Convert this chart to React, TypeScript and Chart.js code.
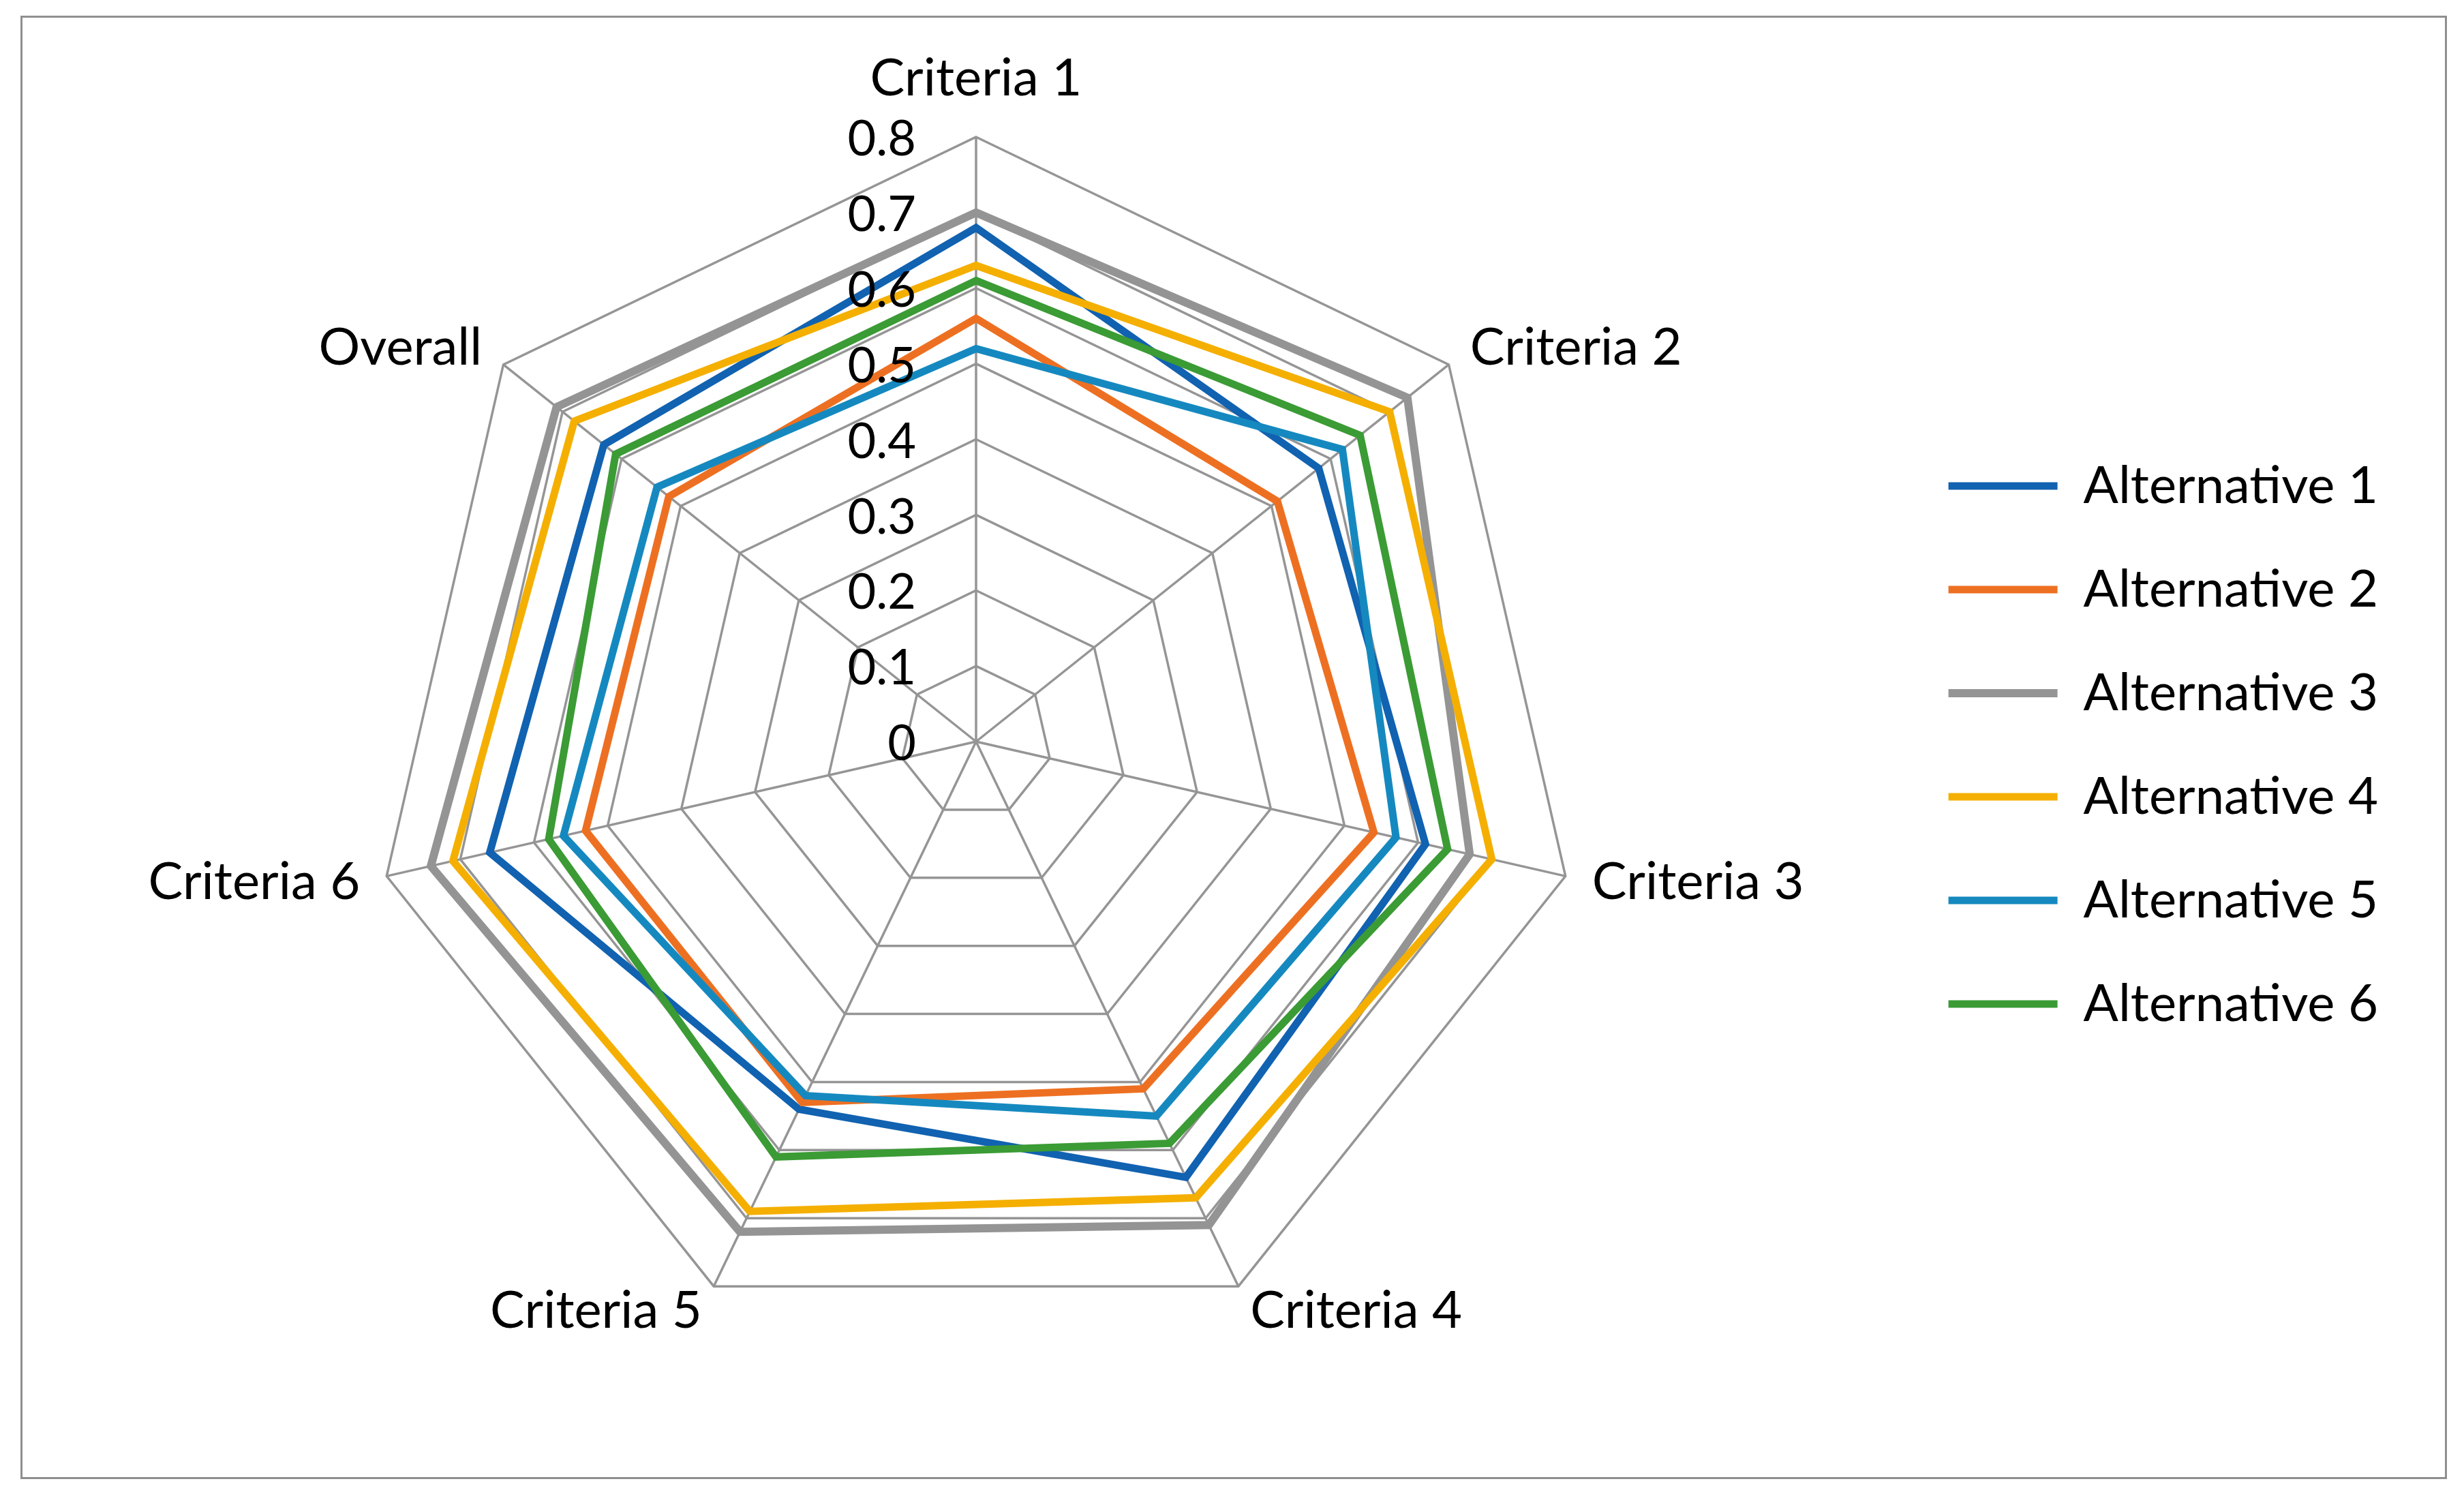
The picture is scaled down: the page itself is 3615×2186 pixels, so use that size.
import React, { useEffect, useRef } from 'react';
import { Chart, registerables } from 'chart.js';

Chart.register(...registerables);

// ---------- data ----------
const categories = ['Criteria 1', 'Criteria 2', 'Criteria 3', 'Criteria 4', 'Criteria 5', 'Criteria 6', 'Overall'];
const seriesNames = ['Alternative 1', 'Alternative 2', 'Alternative 3', 'Alternative 4', 'Alternative 5', 'Alternative 6'];
const alternative1 = [0.68, 0.58, 0.61, 0.64, 0.54, 0.66, 0.63];
const alternative2 = [0.56, 0.51, 0.54, 0.51, 0.53, 0.53, 0.52];
const alternative3 = [0.70, 0.73, 0.67, 0.71, 0.72, 0.74, 0.71];
const alternative4 = [0.63, 0.70, 0.70, 0.67, 0.69, 0.71, 0.68];
const alternative5 = [0.52, 0.62, 0.57, 0.55, 0.52, 0.56, 0.54];
const alternative6 = [0.61, 0.65, 0.64, 0.59, 0.61, 0.58, 0.61];
const seriesValues = [alternative1, alternative2, alternative3, alternative4, alternative5, alternative6];
const axisMin = 0;
const axisMax = 0.8;
const axisStep = 0.1;

// ---------- style / layout ----------
const seriesColors = ['#1162B0', '#ED7022', '#949494', '#F4AF00', '#1589BF', '#3B9B35'];
const seriesWidths = [11, 11, 12, 11, 11, 11];
const GRID_COLOR = '#959595';
const FONT_FAMILY = 'Lato';
const TICK_FONT_SIZE = 72;
const LABEL_FONT_SIZE = 76;
const W = 3615;
const H = 2186;
const CX = 1432;
const CY = 1088;
const RADIUS = 887;
const LABEL_GAP = 40;
const TICK_GAP = 88;
const TICK_DY = 4;

const framePlugin = {
  id: 'frame',
  beforeDraw(chart: any) {
    const ctx = chart.ctx;
    ctx.save();
    ctx.fillStyle = '#ffffff';
    ctx.fillRect(0, 0, chart.width, chart.height);
    ctx.strokeStyle = '#8f8f8f';
    ctx.lineWidth = 3;
    ctx.strokeRect(31.5, 24.5, 3557, 2144);
    ctx.restore();
  },
};

const tickLabelPlugin = {
  id: 'tickLabels',
  afterDatasetsDraw(chart: any) {
    const scale = chart.scales.r;
    const ctx = chart.ctx;
    ctx.save();
    ctx.font = `${TICK_FONT_SIZE}px ${FONT_FAMILY}`;
    ctx.fillStyle = '#000000';
    ctx.textAlign = 'right';
    ctx.textBaseline = 'middle';
    scale.ticks.forEach((t: any) => {
      const d = scale.getDistanceFromCenterForValue(t.value);
      ctx.fillText(t.label, scale.xCenter - TICK_GAP, scale.yCenter - d + TICK_DY);
    });
    ctx.restore();
  },
};

function placeScale(scale: any) {
  scale.xCenter = CX;
  scale.yCenter = CY;
  scale.drawingArea = RADIUS;
  const items = scale._pointLabelItems || [];
  items.forEach((it: any, i: number) => {
    const ang = scale.getIndexAngle(i);
    const a = ang - Math.PI / 2;
    const dist = RADIUS + LABEL_GAP;
    const px = CX + Math.cos(a) * dist;
    const py = CY + Math.sin(a) * dist;
    const w = it.right - it.left;
    const h = it.bottom - it.top;
    const deg = Math.round((((ang * 180) / Math.PI) % 360 + 360) % 360);
    const left = it.textAlign === 'center' ? px - w / 2 : it.textAlign === 'right' ? px - w : px;
    const top = deg === 0 ? py - h : deg === 180 ? py : py - h / 2;
    it.x = px;
    it.y = top;
    it.left = left;
    it.top = top;
    it.right = left + w;
    it.bottom = top + h;
  });
}

export default function App() {
  const ref = useRef<HTMLCanvasElement | null>(null);

  useEffect(() => {
    if (!ref.current) return;
    const chart = new Chart(ref.current, {
      type: 'radar',
      data: {
        labels: categories,
        datasets: seriesValues.map((vals, i) => ({
          label: seriesNames[i],
          data: vals,
          borderColor: seriesColors[i],
          backgroundColor: seriesColors[i],
          borderWidth: seriesWidths[i],
          borderCapStyle: 'round' as const,
          borderJoinStyle: 'miter' as const,
          fill: false,
          pointRadius: 0,
          pointHoverRadius: 0,
          order: seriesValues.length - i,
        })),
      },
      options: {
        animation: false,
        responsive: true,
        maintainAspectRatio: false,
        devicePixelRatio: 1,
        layout: { padding: { right: 116, top: 0, bottom: 0, left: 0 } },
        plugins: {
          tooltip: { enabled: false },
          legend: {
            display: true,
            position: 'right',
            reverse: true,
            labels: {
              usePointStyle: true,
              pointStyle: 'line',
              pointStyleWidth: 160,
              boxHeight: 12,
              padding: 76,
              color: '#000000',
              font: { family: FONT_FAMILY, size: LABEL_FONT_SIZE },
            },
          },
        },
        scales: {
          r: {
            min: axisMin,
            max: axisMax,
            beginAtZero: true,
            startAngle: 0,
            ticks: { stepSize: axisStep, display: false },
            grid: { circular: false, color: GRID_COLOR, lineWidth: 3.5 },
            angleLines: { display: true, color: GRID_COLOR, lineWidth: 3.5 },
            pointLabels: {
              display: true,
              padding: LABEL_GAP,
              color: '#000000',
              font: { family: FONT_FAMILY, size: LABEL_FONT_SIZE },
            },
            afterFit: placeScale,
          } as any,
        },
      },
      plugins: [framePlugin, tickLabelPlugin],
    });
    return () => chart.destroy();
  }, []);

  return (
    <div style={{ position: 'absolute', left: 0, top: 0, width: W, height: H }}>
      <canvas ref={ref} />
    </div>
  );
}
